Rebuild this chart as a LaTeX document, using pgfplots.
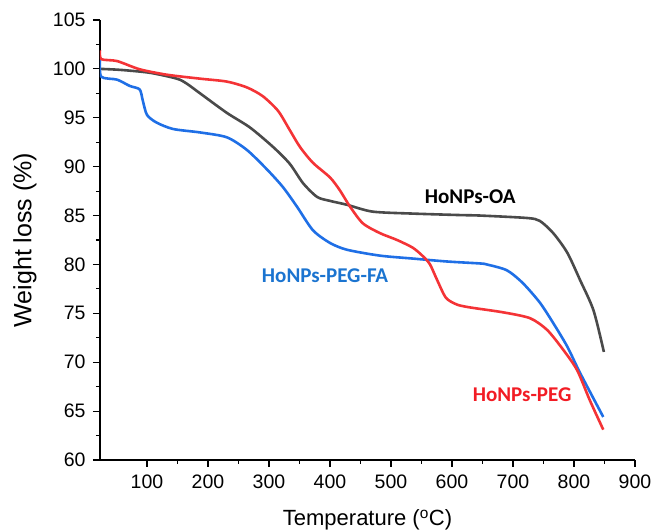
\documentclass[border=0pt]{standalone}
\usepackage{fontspec}
\setmainfont{Liberation Sans}
\newfontfamily\carlito{Carlito}
\usepackage{pgfplots}
\pgfplotsset{compat=1.18}
\definecolor{cred}{HTML}{F43336}
\definecolor{cblue}{HTML}{1F6FE6}
\definecolor{cgray}{HTML}{4A4A4A}
\definecolor{tblue}{HTML}{1B74D0}
\definecolor{tred}{HTML}{F21C24}
\begin{document}
\begin{tikzpicture}
\path[use as bounding box] (-100pt,-72pt) rectangle (554pt,460pt);
\begin{axis}[
  scale only axis,
  width=535pt, height=440pt,
  xmin=23, xmax=900, ymin=60, ymax=105,
  axis x line*=bottom, axis y line*=left,
  axis line style={line width=1.2pt, -},
  xtick={100,200,...,900}, ytick={60,65,...,105},
  minor x tick num=1, minor y tick num=1,
  tick align=outside,
  major tick length=7pt, minor tick length=4pt,
  every tick/.style={line width=1.1pt, black},
  tick label style={font=\fontsize{19.5}{22}\selectfont},
  xticklabel style={yshift=-4pt},
  yticklabel style={xshift=-4pt},
  /pgf/number format/assume math mode=true,
  xlabel={Temperature (\textsuperscript{o}C)},
  ylabel={Weight loss (\%)},
  xlabel style={font=\fontsize{22}{26}\selectfont, at={(axis description cs:0.5,-0.1364)}, anchor=center},
  ylabel style={font=\fontsize{25}{30}\selectfont, at={(axis description cs:-0.1402,0.5)}, anchor=center},
  every axis plot/.style={line width=2.6pt, line join=round, smooth, tension=0.45},
]
\addplot[cgray] table {
x y
23 100.0
56 99.9
105 99.6
149 99.0
165 98.5
187 97.5
231 95.5
269 94.0
307 92.0
334 90.3
356 88.3
379 86.9
400 86.5
428 86.1
470 85.4
536 85.2
613 85.05
646 85.0
723 84.75
744 84.45
766 83.2
789 81.2
810 78.4
832 75.3
849 71.05
};
\addplot[cblue] table {
x y
23 100.9
25 99.2
51 98.9
72 98.25
88 97.9
93 96.8
100 95.3
116 94.5
143 93.85
187 93.5
231 93.0
264 91.7
297 89.7
323 87.9
346 85.9
372 83.5
400 82.2
428 81.5
482 80.9
536 80.6
592 80.3
646 80.1
657 80.0
690 79.4
716 78.1
744 76.1
766 74.0
789 71.6
810 68.9
848 64.4
};
\addplot[cred] table {
x y
23 101.9
25 101.0
51 100.8
88 99.96
133 99.4
187 99.0
231 98.7
264 98.1
290 97.2
315 95.7
334 93.75
351 92.0
372 90.4
400 88.9
416 87.6
433 85.9
454 84.2
482 83.2
510 82.5
536 81.7
553 80.8
564 80.0
575 78.5
590 76.6
608 75.9
630 75.6
684 75.1
728 74.5
756 73.3
782 71.3
805 69.2
826 66.1
848 63.1
};
\node[font=\carlito\bfseries\fontsize{21}{25}\selectfont, text=black] at (axis cs:630,86.9) {HoNPs-OA};
\node[font=\carlito\bfseries\fontsize{21}{25}\selectfont, text=tblue] at (axis cs:392,78.9) {HoNPs-PEG-FA};
\node[font=\carlito\bfseries\fontsize{21}{25}\selectfont, text=tred] at (axis cs:715,66.7) {HoNPs-PEG};
\end{axis}
\end{tikzpicture}
\end{document}
